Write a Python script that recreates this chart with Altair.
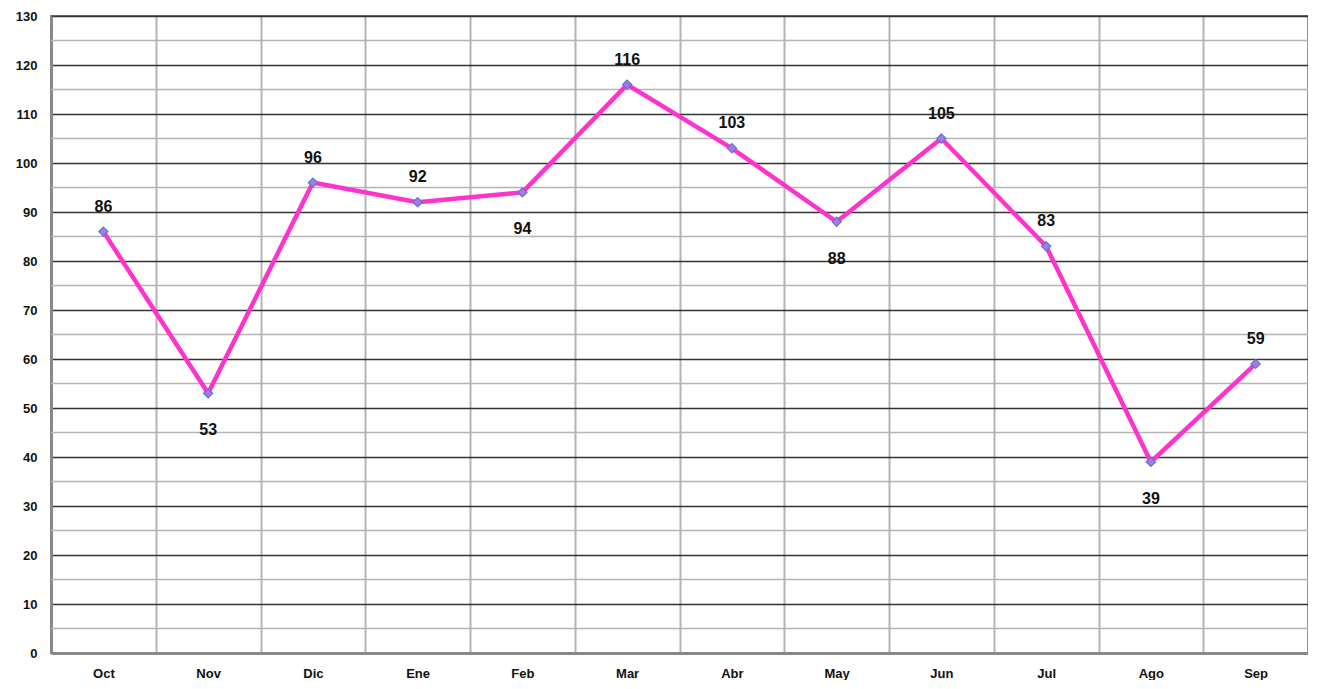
import altair as alt
import pandas as pd

months = ["Oct", "Nov", "Dic", "Ene", "Feb", "Mar", "Abr", "May", "Jun", "Jul", "Ago", "Sep"]
values = [86, 53, 96, 92, 94, 116, 103, 88, 105, 83, 39, 59]
label_below = [False, True, False, False, True, False, False, True, False, False, True, False]
minor_grid = [5, 15, 25, 35, 45, 55, 65, 75, 85, 95, 105, 115, 125]

df = pd.DataFrame({
    "idx": list(range(len(months))),
    "mes": months,
    "valor": values,
    "below": label_below,
})
grid_df = pd.DataFrame({"g": minor_grid})

month_js = "[" + ",".join('"%s"' % m for m in months) + "]"

x_vals = [i * 0.5 for i in range(0, 2 * len(months) + 1)]
y_vals = list(range(0, 131, 10))

x_enc = alt.X(
    "xpos:Q",
    scale=alt.Scale(domain=[0, len(months)], nice=False, zero=False),
    axis=alt.Axis(
        values=x_vals,
        title=None,
        ticks=False,
        labelExpr=f"datum.value % 1 != 0 ? {month_js}[floor(datum.value)] : ''",
        labelFont="Liberation Sans",
        labelFontWeight="bold",
        labelFontSize=13,
        labelColor="#111",
        labelPadding=14,
        domain=True,
        domainColor="#888",
        domainWidth=3,
        grid=True,
        gridColor={"condition": {"test": "datum.value % 1 == 0", "value": "#b4b4b4"}, "value": "transparent"},
        gridWidth=2,
    ),
)

y_enc = alt.Y(
    "valor:Q",
    scale=alt.Scale(domain=[0, 130], nice=False),
    axis=alt.Axis(
        values=y_vals,
        title=None,
        ticks=False,
        labelFont="Liberation Sans",
        labelFontWeight="bold",
        labelFontSize=13,
        labelColor="#111",
        labelPadding=14,
        domain=True,
        domainColor="#888",
        domainWidth=3,
        grid=True,
        gridColor="#333333",
        gridWidth=1.5,
    ),
)

minor = alt.Chart(grid_df).mark_rule(color="#b4b4b4", strokeWidth=1.5).encode(y="g:Q")

base = alt.Chart(df).transform_calculate(xpos="datum.idx + 0.5")

line = base.mark_line(color="#ff33cc", strokeWidth=4.5).encode(x=x_enc, y=y_enc)

points = base.mark_point(
    shape="diamond", filled=True, fill="#a878e8", stroke="#5a78c8", strokeWidth=1.2, size=85, opacity=1
).encode(x="xpos:Q", y="valor:Q")

text_above = base.transform_filter("!datum.below").mark_text(
    font="Liberation Sans", fontWeight="bold", fontSize=16, color="#111", dy=-25
).encode(x="xpos:Q", y="valor:Q", text="valor:Q")

text_below = base.transform_filter("datum.below").mark_text(
    font="Liberation Sans", fontWeight="bold", fontSize=16, color="#111", dy=37
).encode(x="xpos:Q", y="valor:Q", text="valor:Q")

chart = (
    alt.layer(minor, line, points, text_above, text_below)
    .properties(
        width=1257,
        height=637,
        autosize=alt.AutoSizeParams(type="none"),
        padding={"left": 43, "top": 8, "right": 0, "bottom": 27},
    )
    .configure_view(stroke="#444", strokeWidth=1.5)
)

chart.save("out.html", embed_options={"renderer": "svg", "actions": False})
